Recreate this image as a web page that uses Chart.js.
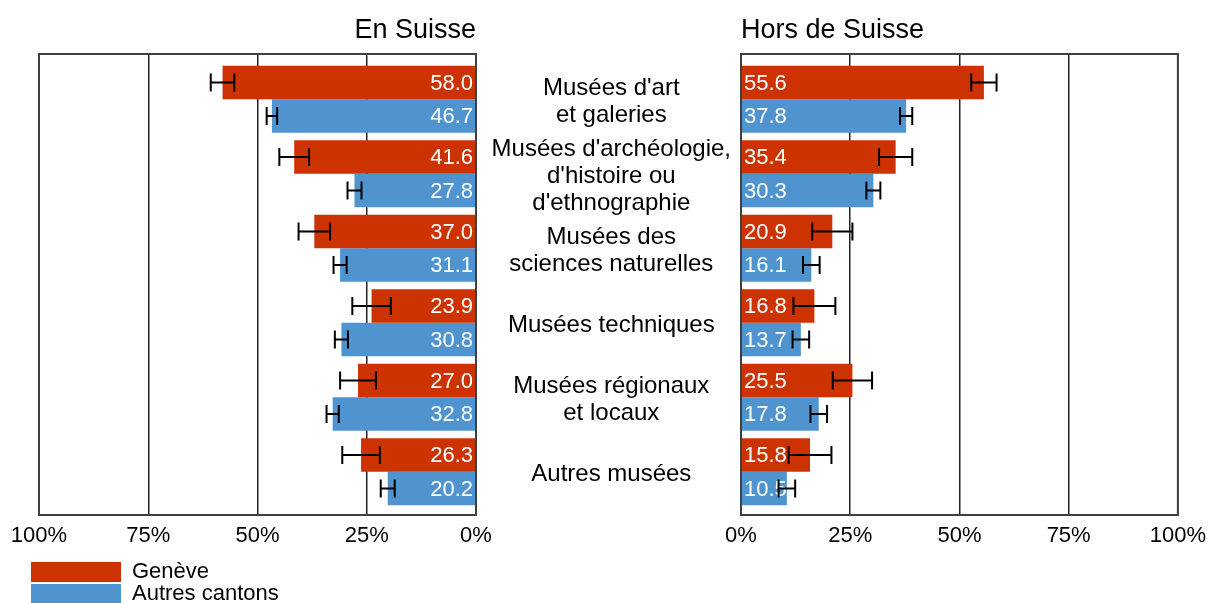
<!DOCTYPE html>
<html lang="fr">
<head>
<meta charset="utf-8">
<script src="https://cdn.jsdelivr.net/npm/chart.js@4.4.1/dist/chart.umd.min.js"></script>
<style>
  html, body { margin: 0; padding: 0; background: #fff; }
  #wrap { position: relative; width: 1208px; height: 603px; overflow: hidden; }
  canvas { position: absolute; }
  #left { left: 0; top: 0; }
  #right { left: 482px; top: 0; }
  #legend { left: 31px; top: 561px; }
</style>
</head>
<body>
<div id="wrap">
  <canvas id="left" width="500" height="560"></canvas>
  <canvas id="right" width="732" height="560"></canvas>
  <canvas id="legend" width="320" height="100"></canvas>
</div>
<script>
const categories = [
  ["Musées d'art", "et galeries"],
  ["Musées d'archéologie,", "d'histoire ou", "d'ethnographie"],
  ["Musées des", "sciences naturelles"],
  ["Musées techniques"],
  ["Musées régionaux", "et locaux"],
  ["Autres musées"],
];
const seriesNames = ['Genève', 'Autres cantons'];
const colors = ['#cc3300', '#4f94cf'];

// En Suisse
const geneveSuisse = [58.0, 41.6, 37.0, 23.9, 27.0, 26.3];
const autresSuisse = [46.7, 27.8, 31.1, 30.8, 32.8, 20.2];
const errGeneveSuisse = [2.7, 3.4, 3.6, 4.4, 4.1, 4.3];
const errAutresSuisse = [1.2, 1.6, 1.5, 1.5, 1.4, 1.6];

// Hors de Suisse
const geneveHors = [55.6, 35.4, 20.9, 16.8, 25.5, 15.8];
const autresHors = [37.8, 30.3, 16.1, 13.7, 17.8, 10.5];
const errGeneveHors = [2.9, 3.8, 4.6, 4.8, 4.5, 4.9];
const errAutresHors = [1.4, 1.6, 1.9, 1.9, 1.9, 1.9];

const xTicks = [0, 25, 50, 75, 100];

Chart.defaults.font.family = "'Liberation Sans', Arial, sans-serif";
Chart.defaults.color = '#000';

// values in the bars, error bars, frame and panel title
const panelDecor = {
  id: 'panelDecor',
  afterDatasetsDraw(chart, args, opts) {
    const { ctx, chartArea: a } = chart;
    const x = chart.scales.x;
    const isLeft = opts.side === 'left';
    ctx.save();
    ctx.font = "22px 'Liberation Sans', Arial, sans-serif";
    ctx.fillStyle = '#fff';
    ctx.textBaseline = 'middle';
    ctx.textAlign = isLeft ? 'right' : 'left';
    const x0 = x.getPixelForValue(0) + (isLeft ? -3 : 3);
    chart.data.datasets.forEach((ds, d) => {
      chart.getDatasetMeta(d).data.forEach((bar, i) => {
        ctx.fillText(ds.data[i].x.toFixed(1), x0, bar.y + 1);
      });
    });
    ctx.strokeStyle = '#000';
    ctx.lineWidth = 2;
    chart.data.datasets.forEach((ds, d) => {
      const errs = opts.errors[d];
      chart.getDatasetMeta(d).data.forEach((bar, i) => {
        const v = ds.data[i].x;
        const x1 = x.getPixelForValue(v - errs[i]);
        const x2 = x.getPixelForValue(v + errs[i]);
        ctx.beginPath();
        ctx.moveTo(x1, bar.y); ctx.lineTo(x2, bar.y);
        ctx.moveTo(x1, bar.y - 9); ctx.lineTo(x1, bar.y + 9);
        ctx.moveTo(x2, bar.y - 9); ctx.lineTo(x2, bar.y + 9);
        ctx.stroke();
      });
    });
    ctx.strokeStyle = '#404040';
    ctx.strokeRect(a.left, a.top, a.right - a.left, a.bottom - a.top);
    ctx.fillStyle = '#000';
    ctx.font = "27px 'Liberation Sans', Arial, sans-serif";
    ctx.textBaseline = 'alphabetic';
    ctx.fillText(opts.title, isLeft ? a.right : a.left, 38);
    ctx.restore();
  },
};

function makePanel(id, side, title, values, errors) {
  const isLeft = side === 'left';
  return new Chart(document.getElementById(id), {
    type: 'bar',
    data: {
      datasets: values.map((vals, d) => ({
        label: seriesNames[d],
        data: vals.map((v, i) => ({ x: v, y: i })),
        backgroundColor: colors[d],
        borderWidth: 0,
        categoryPercentage: 0.9,
        barPercentage: 1,
      })),
    },
    options: {
      indexAxis: 'y',
      responsive: false,
      animation: false,
      layout: { padding: { top: 54, left: isLeft ? 39 : 0, right: isLeft ? 24 : 30, bottom: 0 } },
      plugins: {
        legend: { display: false },
        tooltip: { enabled: false },
        panelDecor: { side, title, errors },
      },
      scales: {
        x: {
          type: 'linear', min: 0, max: 100, reverse: isLeft,
          afterBuildTicks: (ax) => { ax.ticks = xTicks.map((v) => ({ value: v })); },
          afterFit: (ax) => { ax.height = 45; },
          ticks: { callback: (v) => v + '%', padding: 8, autoSkip: false, maxRotation: 0, font: { size: 22 } },
          grid: { color: '#222', lineWidth: 1.5, drawTicks: false },
          border: { display: false },
        },
        y: {
          type: 'linear', min: -0.608, max: 5.58, reverse: true, offset: false, display: !isLeft,
          afterBuildTicks: (ax) => { ax.ticks = categories.map((c, i) => ({ value: i })); },
          afterFit: (ax) => { ax.width = isLeft ? 0 : 259; },
          ticks: { callback: (v) => categories[v], crossAlign: 'center', padding: 10, labelOffset: 2.5, autoSkip: false, font: { size: 24, lineHeight: 1.12 } },
          grid: { display: false, drawTicks: false },
          border: { display: false },
        },
      },
    },
    plugins: [panelDecor],
  });
}

makePanel('left', 'left', 'En Suisse', [geneveSuisse, autresSuisse], [errGeneveSuisse, errAutresSuisse]);
makePanel('right', 'right', 'Hors de Suisse', [geneveHors, autresHors], [errGeneveHors, errAutresHors]);

new Chart(document.getElementById('legend'), {
  type: 'bar',
  data: {
    labels: [],
    datasets: seriesNames.map((n, d) => ({ label: n, data: [], backgroundColor: colors[d], borderWidth: 0 })),
  },
  options: {
    responsive: false,
    animation: false,
    layout: { padding: 0 },
    scales: { x: { display: false }, y: { display: false } },
    plugins: {
      tooltip: { enabled: false },
      legend: {
        position: 'top', align: 'start', maxHeight: 60,
        labels: { boxWidth: 90, boxHeight: 20, padding: 0, font: { size: 22 } },
      },
    },
  },
});
</script>
</body>
</html>
